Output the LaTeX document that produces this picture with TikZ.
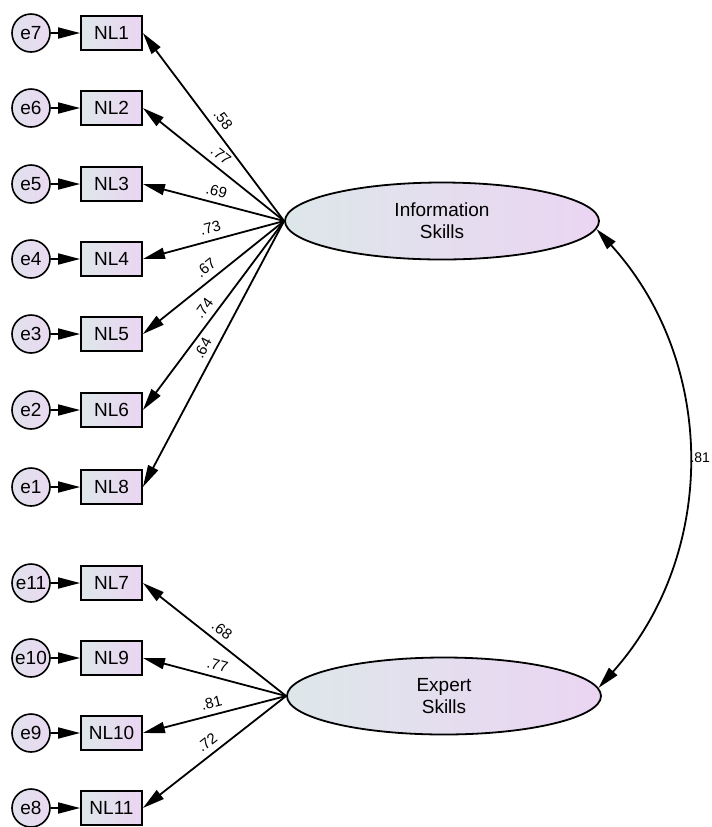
\documentclass[tikz,border=0pt]{standalone}
\usepackage{fontspec}
\setmainfont{Liberation Sans}
\usepackage{xcolor}
\usetikzlibrary{shapes.geometric, arrows.meta, positioning}
\definecolor{shadeL}{HTML}{DDE7EA}
\definecolor{shadeR}{HTML}{EBD5F2}
\definecolor{errfill}{HTML}{E9D9F1}
\tikzset{
    obs/.style = {draw, line width = 0.9pt, rectangle, minimum width = 30.5pt, minimum height = 17pt, inner sep = 0pt, left color = shadeL, right color = shadeR, font = \fontsize{9.5}{11}\selectfont},
    err/.style = {draw, line width = 0.8pt, circle, minimum size = 19pt, inner sep = 0pt, left color = shadeL!60!errfill, right color = errfill, font = \fontsize{9.5}{11}\selectfont},
    lat/.style = {draw, line width = 0.9pt, ellipse, minimum width = 157pt, minimum height = 38.5pt, inner sep = 0pt, left color = shadeL, right color = shadeR, align = center, font = \fontsize{9.5}{11}\selectfont},
    arr/.style = {line width = 0.9pt},
    coef/.style = {sloped, above = 2.5pt, inner sep = 0.5pt, font = \fontsize{7.5}{8}\selectfont},
    >={Triangle[length = 11pt, width = 5.5pt]}
}
\begin{document}
\begin{tikzpicture}[x = 0.5pt, y = -0.5pt]
    % Parametri
    \pgfmathsetmacro{\xe}{31}
    \pgfmathsetmacro{\xnl}{111.5}
    \useasboundingbox (0,0) rectangle (712,827);
    % Indicatori ed errori
    \foreach \nl/\e/\y in {1/7/33, 2/6/108, 3/5/184, 4/4/259, 5/3/334, 6/2/410, 8/1/487, 7/11/583, 9/10/658, 10/9/733, 11/8/808}{
        \node[err] (e\e) at (\xe,\y) {e\e};
        \node[obs] (NL\nl) at (\xnl,\y) {NL\nl};
        \draw[arr, ->] (e\e) -- (NL\nl);
    }
    % Fattori
    \node[lat] (IS) at (442,221) {Information\\Skills};
    \node[lat] (ES) at (444,696) {Expert\\Skills};
    % Saturazioni
    \foreach \nl/\w in {1/.58, 2/.77, 3/.69, 4/.73, 5/.67, 6/.74, 8/.64}{
        \draw[arr, ->] (IS.west) -- (NL\nl.east) node[coef, pos = 0.5]{\w};
    }
    \foreach \nl/\w in {7/.68, 9/.77, 10/.81, 11/.72}{
        \draw[arr, ->] (ES.west) -- (NL\nl.east) node[coef, pos = 0.5]{\w};
    }
    % Covarianza
    \draw[arr, <->] (IS.-3) to[bend left = 42] node[right, inner sep = 1pt, font = \fontsize{7}{8}\selectfont]{.81} (ES.3);
\end{tikzpicture}
\end{document}
